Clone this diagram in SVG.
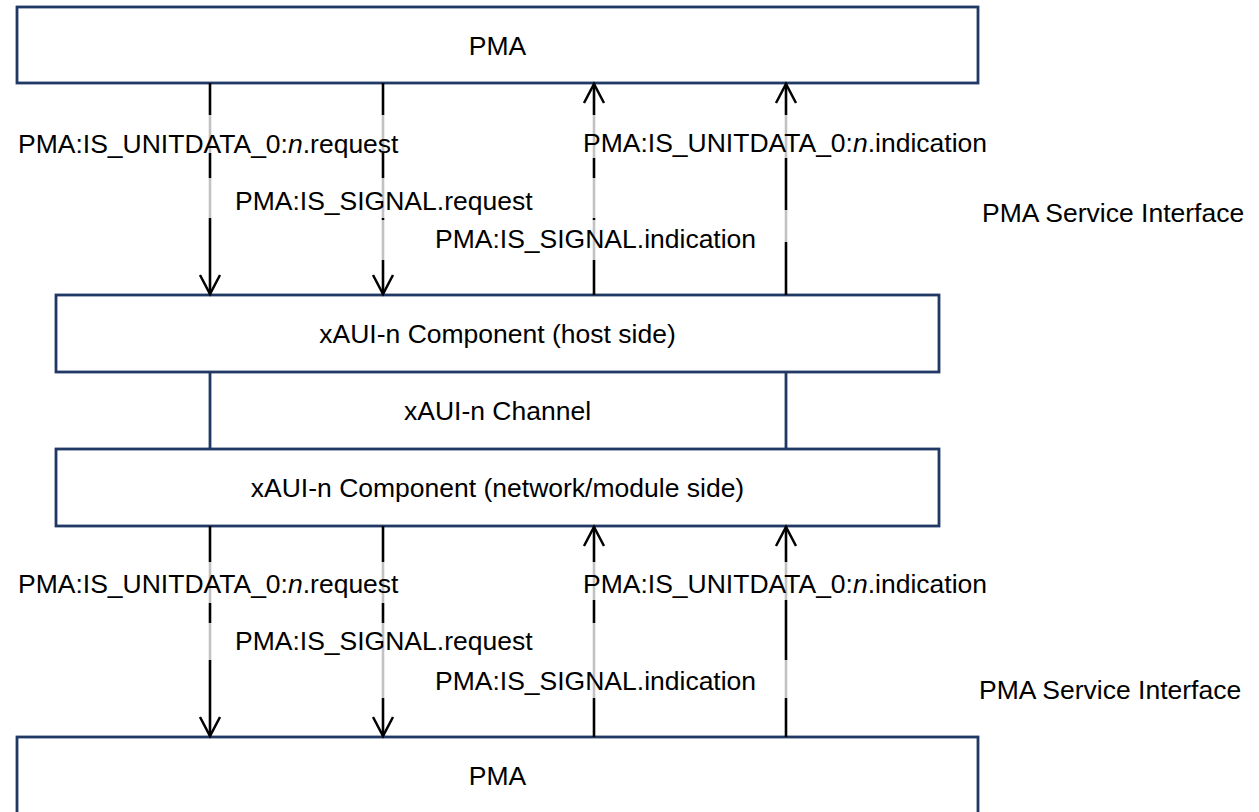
<svg xmlns="http://www.w3.org/2000/svg" width="1259" height="812" viewBox="0 0 1259 812">
  <defs>
    <marker id="open-arrow" markerUnits="userSpaceOnUse" markerWidth="40" markerHeight="40" refX="0" refY="0" orient="auto" overflow="visible">
      <path d="M -19,-10 L 0,0 L -19,10" fill="none" stroke="#000" stroke-width="2.5"/>
    </marker>
    <style>
      .box { fill: #fff; stroke: #1f3864; stroke-width: 2.8; }
      .edge { stroke: #1f3864; stroke-width: 2.8; fill: none; }
      .txt { font-family: "Liberation Sans", Arial, sans-serif; font-size: 26.5px; fill: #000; }
      .mid { text-anchor: middle; }
      .flow { stroke: #000; stroke-width: 2.6; fill: none; marker-end: url(#open-arrow); }
      .lblbg { fill: #fff; fill-opacity: 0.76; stroke: none; }
    </style>
  </defs>

  <rect width="1259" height="812" fill="#fff"/>

  <!-- upper PMA layer -->
  <g id="pma-top">
    <rect class="box" x="17" y="7" width="961" height="76"/>
    <text class="txt mid" x="497.5" y="55">PMA</text>
  </g>

  <!-- host-side component -->
  <g id="xaui-host">
    <rect class="box" x="56" y="295" width="883" height="77"/>
    <text class="txt mid" x="497.5" y="343">xAUI-n Component (host side)</text>
  </g>

  <!-- channel between the two components -->
  <g id="xaui-channel">
    <line class="edge" x1="210" y1="372" x2="210" y2="449"/>
    <line class="edge" x1="786" y1="372" x2="786" y2="449"/>
    <text class="txt mid" x="497.5" y="420">xAUI-n Channel</text>
  </g>

  <!-- network/module-side component -->
  <g id="xaui-network">
    <rect class="box" x="56" y="449" width="883" height="77"/>
    <text class="txt mid" x="497.5" y="497">xAUI-n Component (network/module side)</text>
  </g>

  <!-- lower PMA layer -->
  <g id="pma-bottom">
    <rect class="box" x="17" y="737" width="961" height="82"/>
    <text class="txt mid" x="497.5" y="785">PMA</text>
  </g>

  <!-- service primitives -->
  <g id="connectors">
    <line class="flow" x1="210" y1="83" x2="210" y2="294"/>
    <line class="flow" x1="383" y1="83" x2="383" y2="294"/>
    <line class="flow" x1="594" y1="295" x2="594" y2="84"/>
    <line class="flow" x1="786" y1="295" x2="786" y2="84"/>

    <line class="flow" x1="210" y1="526" x2="210" y2="736"/>
    <line class="flow" x1="383" y1="526" x2="383" y2="736"/>
    <line class="flow" x1="594" y1="737" x2="594" y2="527"/>
    <line class="flow" x1="786" y1="737" x2="786" y2="527"/>
  </g>

  <!-- primitive labels, upper interface -->
  <g id="labels-upper">
    <rect class="lblbg" x="8" y="115" width="402" height="38"/>
    <rect class="lblbg" x="200" y="178" width="400" height="40"/>
    <rect class="lblbg" x="375" y="220" width="390" height="40"/>
    <rect class="lblbg" x="575" y="115" width="425" height="43"/>
    <rect class="lblbg" x="700" y="210" width="550" height="32"/>
    <text class="txt" x="18" y="153">PMA:IS_UNITDATA_0:<tspan font-style="italic">n</tspan>.request</text>
    <text class="txt" x="235" y="210">PMA:IS_SIGNAL.request</text>
    <text class="txt" x="435" y="248">PMA:IS_SIGNAL.indication</text>
    <text class="txt" x="583" y="152">PMA:IS_UNITDATA_0:<tspan font-style="italic">n</tspan>.indication</text>
    <text class="txt" x="982" y="222">PMA Service Interface</text>
  </g>

  <!-- primitive labels, lower interface -->
  <g id="labels-lower">
    <rect class="lblbg" x="8" y="562" width="402" height="41"/>
    <rect class="lblbg" x="200" y="623" width="400" height="37"/>
    <rect class="lblbg" x="375" y="660" width="390" height="38"/>
    <rect class="lblbg" x="575" y="562" width="425" height="38"/>
    <rect class="lblbg" x="700" y="660" width="550" height="38"/>
    <text class="txt" x="18" y="593">PMA:IS_UNITDATA_0:<tspan font-style="italic">n</tspan>.request</text>
    <text class="txt" x="235" y="650">PMA:IS_SIGNAL.request</text>
    <text class="txt" x="435" y="690">PMA:IS_SIGNAL.indication</text>
    <text class="txt" x="583" y="593">PMA:IS_UNITDATA_0:<tspan font-style="italic">n</tspan>.indication</text>
    <text class="txt" x="979" y="699">PMA Service Interface</text>
  </g>
</svg>
